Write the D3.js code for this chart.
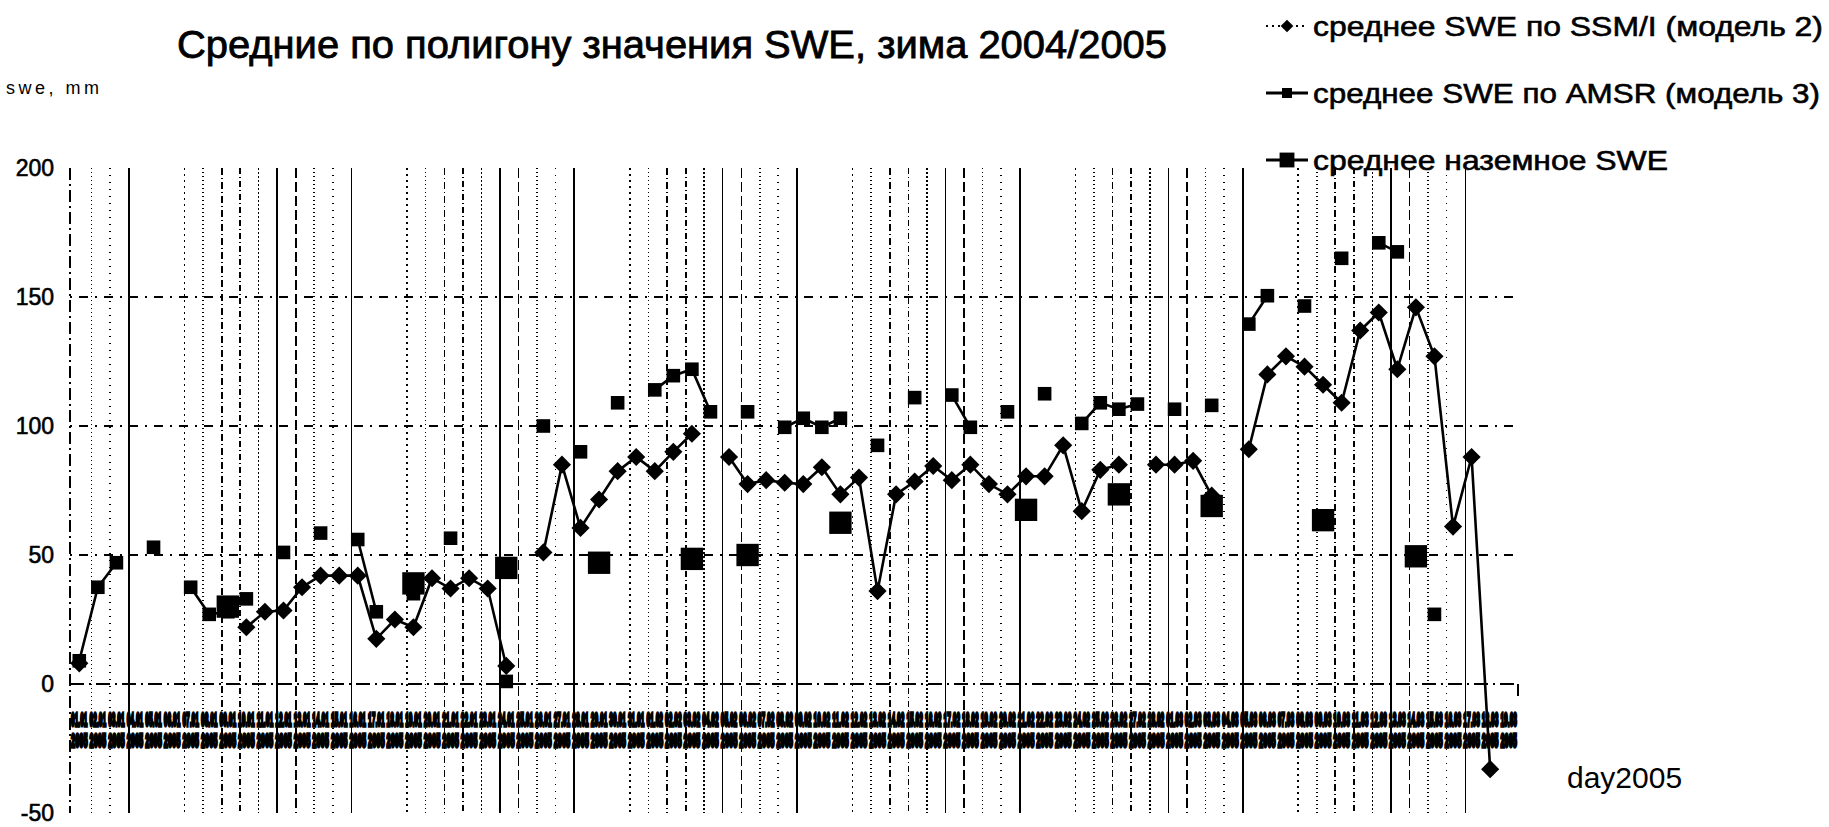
<!DOCTYPE html>
<html>
<head>
<meta charset="utf-8">
<script src="https://cdn.jsdelivr.net/npm/d3@7"></script>
<style>
  body { margin: 0; background: #fff; }
  svg { display: block; font-family: "Liberation Sans Narrow", "Liberation Sans", Arial, sans-serif; }
</style>
</head>
<body>
<div id="chart"></div>
<script>
// days of 2005 (category axis)
const days = [1, 2, 3, 4, 5, 6, 7, 8, 9, 10, 11, 12, 13, 14, 15, 16, 17, 18, 19, 20,
              21, 22, 23, 24, 25, 26, 27, 28, 29, 30, 31, 32, 33, 34, 35, 36, 37, 38, 39, 40,
              41, 42, 43, 44, 45, 46, 47, 48, 49, 50, 51, 52, 53, 54, 55, 56, 57, 58, 59, 60,
              61, 62, 63, 64, 65, 66, 67, 68, 69, 70, 71, 72, 73, 74, 75, 76, 77, 78];

// mean SWE by SSM/I (model 2)
const ssmi = [8, null, null, null, null, null, null, null, null, 22,
              28, 28.5, 37.5, 42, 42, 42, 17.5, 25, 22, 41,
              37, 41, 37, 7, null, 51, 85, 60.5, 71.5, 82.5,
              88, 82.5, 90, 97, null, 88, 77.5, 79, 78, 77.5,
              84, 73.5, 80, 36, 73.5, 78.5, 84.5, 79, 85, 77.5,
              73.5, 80.5, 80.5, 92.5, 67, 83, 85, null, 85, 85,
              86.5, 73, null, 91, 120, 127, 123, 116, 109, 137,
              144, 122, 146, 127, 61, 88, -33, null];

// mean SWE by AMSR (model 3)
const amsr = [9, 37.5, 47, null, 53, null, 37.5, 27, 28, 33,
              null, 51, null, 58.5, null, 56, 28, null, 35, null,
              56.5, null, null, 1, null, 100, null, 90, null, 109,
              null, 114, 119.5, 122, 105.5, null, 105.5, null, 99.5, 103,
              99.5, 103, null, 92.5, null, 111, null, 112, 99.5, null,
              105.5, null, 112.5, null, 101, 109, 106.5, 108.5, null, 106.5,
              null, 108, null, 139.5, 150.5, null, 146.5, null, 165, null,
              171, 167.5, null, 27, null, null, null, null];

// mean ground SWE
const ground = [null, null, null, null, null, null, null, null, 30, null,
                null, null, null, null, null, null, null, null, 39, null,
                null, null, null, 45, null, null, null, null, 47, null,
                null, null, null, 48.5, null, null, 50, null, null, null,
                null, 62.5, null, null, null, null, null, null, null, null,
                null, 67.5, null, null, null, null, 73.5, null, null, null,
                null, 69, null, null, null, null, null, 63.5, null, null,
                null, null, 49.5, null, null, null, null, null];

const yTicks = [-50, 0, 50, 100, 150, 200];

const width = 1829;
const height = 827;

const svg = d3.select("#chart")
              .append("svg")
              .attr("width", width)
              .attr("height", height);

const x = d3.scaleBand().domain(days).range([70, 1518]);
const y = d3.scaleLinear().domain([-50, 200]).range([813, 168]);
const cx = d => x(d) + x.bandwidth() / 2;

// title and axis captions
svg.append("text")
   .attr("x", 672)
   .attr("y", 58)
   .attr("text-anchor", "middle")
   .attr("font-size", 38)
   .attr("stroke", "#000")
   .attr("stroke-width", 0.8)
   .attr("textLength", 990)
   .attr("lengthAdjust", "spacingAndGlyphs")
   .text("Средние по полигону значения SWE, зима 2004/2005");

svg.append("text")
   .attr("x", 6)
   .attr("y", 94)
   .attr("font-size", 18)
   .attr("letter-spacing", 3.5)
   .text("swe, mm");

svg.append("text")
   .attr("x", 1567)
   .attr("y", 788)
   .attr("font-size", 30)
   .text("day2005");

// vertical gridlines, scanned look: dash styles vary line to line
const vDash = ["1,3", "7,3,1,3", "none", "2,2", "0,2000", "10,4", "1,3", "1,6", "6,3,1,3", "0,2000", "none", "2,4"];
const grid = svg.append("g").attr("class", "grid").attr("shape-rendering", "crispEdges");

grid.selectAll("line.v")
    .data(days.slice(1))
    .enter().append("line")
    .attr("class", "v")
    .attr("x1", d => x(d) + 3)
    .attr("x2", d => x(d) + 3)
    .attr("y1", y(200))
    .attr("y2", y(-50))
    .attr("stroke", "#000")
    .attr("stroke-width", (d, i) => (i % 5 === 2 ? 2 : 1.5))
    .attr("stroke-dasharray", (d, i) => vDash[(i * 7) % vDash.length]);

// horizontal gridlines
grid.selectAll("line.h")
    .data([50, 100, 150])
    .enter().append("line")
    .attr("class", "h")
    .attr("x1", 70)
    .attr("x2", 1518)
    .attr("y1", d => y(d))
    .attr("y2", d => y(d))
    .attr("stroke", "#000")
    .attr("stroke-width", 2)
    .attr("stroke-dasharray", "2,7,9,7");

// y axis line
grid.append("line")
    .attr("x1", 70).attr("x2", 70)
    .attr("y1", y(200)).attr("y2", y(-50))
    .attr("stroke", "#000")
    .attr("stroke-width", 2)
    .attr("stroke-dasharray", "12,4,2,4");

// x axis at zero
grid.append("line")
    .attr("x1", 70).attr("x2", 1518)
    .attr("y1", y(0)).attr("y2", y(0))
    .attr("stroke", "#000")
    .attr("stroke-width", 2)
    .attr("stroke-dasharray", "14,5,2,5");

grid.append("line")
    .attr("x1", 1518).attr("x2", 1518)
    .attr("y1", y(0)).attr("y2", y(0) + 12)
    .attr("stroke", "#000")
    .attr("stroke-width", 2);

// y tick labels
svg.append("g")
   .selectAll("text")
   .data(yTicks)
   .enter().append("text")
   .attr("x", 54)
   .attr("y", d => y(d) + 8)
   .attr("text-anchor", "end")
   .attr("font-size", 23)
   .attr("stroke", "#000")
   .attr("stroke-width", 0.6)
   .text(d => d);

// category labels: squashed into two rows under the zero line
const fmt = d3.timeFormat("%d.%m");
const labels = svg.append("g")
                  .attr("class", "xlabels")
                  .attr("font-weight", "bold")
                  .attr("font-size", 18)
                  .attr("stroke", "#000")
                  .attr("stroke-width", 2.6);

// fit a label into its band by scaling it horizontally
function squeeze(sel, rowY) {
    sel.each(function(d) {
        const w = this.getComputedTextLength();
        const sx = (x.bandwidth() - 2) / w;
        d3.select(this)
          .attr("vector-effect", "non-scaling-stroke")
          .attr("transform", `translate(${x(d) + 1},${rowY}) scale(${sx},1)`);
    });
}

labels.selectAll("text.r1")
      .data(days)
      .enter().append("text")
      .attr("class", "r1")
      .text(d => fmt(new Date(2005, 0, d)))
      .call(squeeze, 726);

labels.selectAll("text.r2")
      .data(days)
      .enter().append("text")
      .attr("class", "r2")
      .text("2005")
      .call(squeeze, 747);

// series
const series = [
    { name: "среднее SWE по SSM/I (модель 2)", values: ssmi, marker: "diamond", size: 165 },
    { name: "среднее SWE по AMSR (модель 3)", values: amsr, marker: "square", size: 185 },
    { name: "среднее наземное SWE", values: ground, marker: "square", size: 500 }
];

const line = d3.line()
               .defined(d => d.v != null)
               .x(d => cx(d.day))
               .y(d => y(d.v));

const plot = svg.append("g").attr("class", "series");

series.forEach(s => {
    const pts = days.map((d, i) => ({ day: d, v: s.values[i] }));

    plot.append("path")
        .datum(pts)
        .attr("fill", "none")
        .attr("stroke", "#000")
        .attr("stroke-width", 2.6)
        .attr("d", line);

    plot.append("g")
        .selectAll("path")
        .data(pts.filter(p => p.v != null))
        .enter().append("path")
        .attr("d", d3.symbol(d3.symbolSquare, s.size))
        .attr("transform", p => `translate(${cx(p.day)},${y(p.v)})` + (s.marker === "diamond" ? " rotate(45)" : ""))
        .attr("fill", "#000");
});

// legend
const legendRows = [26, 93, 160];
const legendLen = [510, 507, 355];
const legend = svg.append("g").attr("class", "legend");

series.forEach((s, i) => {
    const row = legend.append("g").attr("transform", `translate(1266,${legendRows[i]})`);
    row.append("line")
       .attr("x1", 0).attr("x2", 42)
       .attr("stroke", "#000")
       .attr("stroke-width", i === 0 ? 2 : 3)
       .attr("stroke-dasharray", i === 0 ? "2,4" : null);
    row.append("path")
       .attr("d", d3.symbol(d3.symbolSquare, i === 0 ? 80 : i === 1 ? 100 : 220))
       .attr("transform", `translate(21,0)` + (i === 0 ? " rotate(45)" : ""))
       .attr("fill", "#000");
    row.append("text")
       .attr("x", 47)
       .attr("y", 10)
       .attr("font-size", 28)
       .attr("stroke", "#000")
       .attr("stroke-width", 0.6)
       .attr("textLength", legendLen[i])
       .attr("lengthAdjust", "spacingAndGlyphs")
       .text(s.name);
});
</script>
</body>
</html>
